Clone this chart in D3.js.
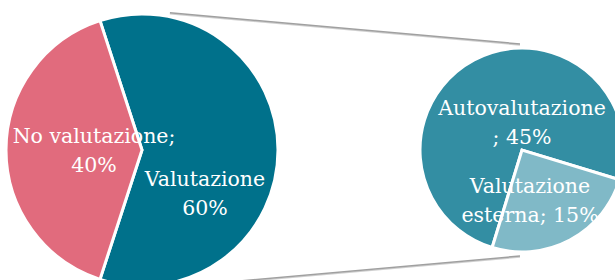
<!DOCTYPE html>
<html>
<head>
<meta charset="utf-8">
<script src="https://cdn.jsdelivr.net/npm/d3@7"></script>
<style>
  body { margin: 0; background: #fff; }
  svg { display: block; }
  text { font-family: "DejaVu Serif", serif; fill: #fff; }
</style>
</head>
<body>
<svg id="chart" width="615" height="280"></svg>
<script>
// primary pie
var mainLabels = ["Valutazione", "No valutazione"];
var mainValues = [60, 40];
var mainColors = ["#00718b", "#e16b7d"];

// secondary pie (breakdown of "Valutazione")
var subLabels = ["Autovalutazione", "Valutazione esterna"];
var subValues = [45, 15];
var subColors = ["#338ea3", "#80b9c7"];

var svg = d3.select("#chart");

var c1 = { x: 142, y: 150, r: 136 };
var c2 = { x: 522, y: 150, r: 102 };

var deg = Math.PI / 180;
function polar(c, r, a) { return [c.x + r * Math.sin(a), c.y - r * Math.cos(a)]; }

// connector lines, drawn under the pies
var lineAng = 11.5 * deg;
var conn = [
  [polar(c1, c1.r + 4, lineAng), [c2.x - 2, c2.y - c2.r - 4]],
  [polar(c1, c1.r + 4, Math.PI - lineAng), [c2.x - 2, c2.y + c2.r + 4]]
];
var lines = svg.append("g");
conn.forEach(function(p) {
  lines.append("line")
    .attr("x1", p[0][0]).attr("y1", p[0][1] + 1)
    .attr("x2", p[1][0]).attr("y2", p[1][1] + 1)
    .style("stroke", "#d0d0d0").style("stroke-width", 1.5);
  lines.append("line")
    .attr("x1", p[0][0]).attr("y1", p[0][1])
    .attr("x2", p[1][0]).attr("y2", p[1][1])
    .style("stroke", "#a0a0a0").style("stroke-width", 1.5);
});

// main pie: "Valutazione" centred on the right side
var share1 = mainValues[0] / d3.sum(mainValues);
var start1 = Math.PI / 2 - share1 * Math.PI;
var pie1 = d3.pie().sort(null).startAngle(start1).endAngle(start1 + 2 * Math.PI);
var arc1 = d3.arc().innerRadius(0).outerRadius(c1.r);

var g1 = svg.append("g").attr("transform", "translate(" + c1.x + "," + c1.y + ")");
g1.selectAll("path")
  .data(pie1(mainValues))
  .enter()
  .append("path")
    .attr("d", arc1)
    .style("fill", function(d, i) { return mainColors[i]; })
    .style("stroke", "#fff")
    .style("stroke-width", 3)
    .style("stroke-linejoin", "miter");

// secondary pie: "Valutazione esterna" spans ~107deg to ~197deg
var start2 = 197 * deg;
var pie2 = d3.pie().sort(null).startAngle(start2).endAngle(start2 + 2 * Math.PI);
var arc2 = d3.arc().innerRadius(0).outerRadius(c2.r);

var g2 = svg.append("g").attr("transform", "translate(" + c2.x + "," + c2.y + ")");
g2.selectAll("path")
  .data(pie2(subValues))
  .enter()
  .append("path")
    .attr("d", arc2)
    .style("fill", function(d, i) { return subColors[i]; })
    .style("stroke", "#fff")
    .style("stroke-width", 3)
    .style("stroke-linejoin", "miter");

// labels
var fmt = function(v, total) { return Math.round(v / total * 100) + "%"; };
var total = d3.sum(mainValues);

function label(g, x, y, rows) {
  var t = g.append("text")
    .attr("text-anchor", "middle")
    .style("font-size", "20.5px");
  rows.forEach(function(s, i) {
    t.append("tspan").attr("x", x).attr("y", y + i * 29).text(s);
  });
}

label(g1, 63, 36, [mainLabels[0], fmt(mainValues[0], total)]);
label(g1, -48, -7, [mainLabels[1] + ";", fmt(mainValues[1], total)]);
label(g2, 0, -35, [subLabels[0], "; " + fmt(subValues[0], total)]);
label(g2, 8, 43, ["Valutazione", "esterna; " + fmt(subValues[1], total)]);
</script>
</body>
</html>
